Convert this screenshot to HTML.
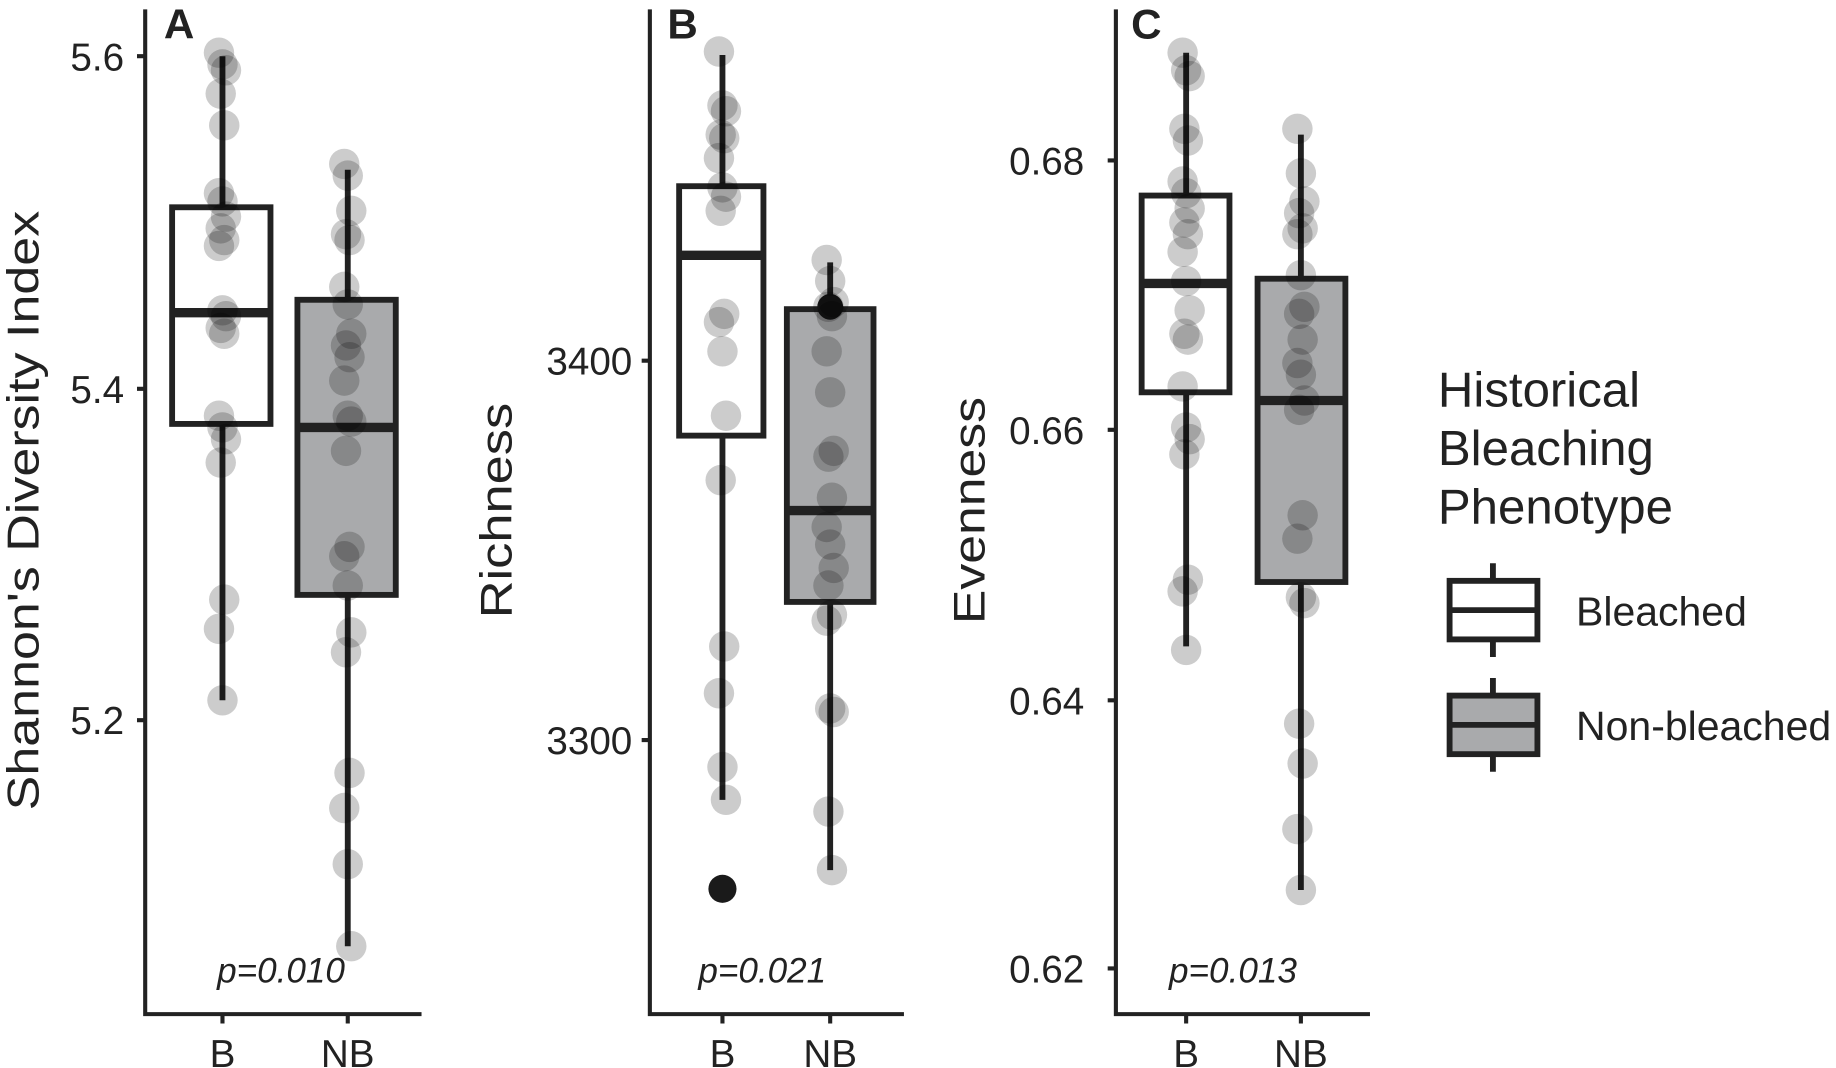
<!DOCTYPE html>
<html><head><meta charset="utf-8"><style>
html,body{margin:0;padding:0;background:#fff;}
svg{display:block;}
text{font-family:"Liberation Sans",Arial,sans-serif;fill:#222;}
</style></head><body>
<svg width="1836" height="1068" viewBox="0 0 1568 912" preserveAspectRatio="none" xmlns="http://www.w3.org/2000/svg">
<g stroke="#222" stroke-width="3.5" fill="none">
<path d="M124 8V866H360M117 48H124M117 332H124M117 615H124M190 866V874M297 866V874"/>
<path d="M555 8V866H772M548 308H555M548 632H555M617 866V874M709 866V874"/>
<path d="M953 8V866H1170M946 137H953M946 367H953M946 598H953M946 827H953M1013 866V874M1111 866V874"/>
</g>
<g font-size="33" text-anchor="end">
<text x="106" y="60">5.6</text><text x="106" y="344">5.4</text><text x="106" y="627">5.2</text>
<text x="540" y="320">3400</text><text x="540" y="644">3300</text>
<text x="926" y="149">0.68</text><text x="926" y="379">0.66</text><text x="926" y="610">0.64</text><text x="926" y="839">0.62</text>
</g>
<g font-size="33" text-anchor="middle">
<text x="190" y="911">B</text><text x="297" y="911">NB</text>
<text x="617" y="911">B</text><text x="709" y="911">NB</text>
<text x="1013" y="911">B</text><text x="1111" y="911">NB</text>
</g>
<g font-size="38" text-anchor="middle">
<text transform="translate(33 436) rotate(-90)" textLength="512" lengthAdjust="spacingAndGlyphs">Shannon's Diversity Index</text>
<text transform="translate(437 436) rotate(-90)" textLength="184" lengthAdjust="spacingAndGlyphs">Richness</text>
<text transform="translate(841 436) rotate(-90)" textLength="194" lengthAdjust="spacingAndGlyphs">Evenness</text>
</g>
<g font-size="36" font-weight="bold"><text x="140" y="33">A</text><text x="570" y="33">B</text><text x="966" y="33">C</text></g>
<g font-size="30" font-style="italic" text-anchor="middle">
<text x="240" y="839">p=0.010</text><text x="651" y="839">p=0.021</text><text x="1053" y="839">p=0.013</text>
</g>
<g stroke="#222" stroke-width="5">
<line x1="190" y1="48" x2="190" y2="598"/><rect x="147" y="177" width="84" height="185" fill="#fff"/>
<line x1="297" y1="145" x2="297" y2="808"/><rect x="254" y="256" width="84" height="252" fill="#a9aaac"/>
<line x1="617" y1="47" x2="617" y2="683"/><rect x="580" y="159" width="72" height="213" fill="#fff"/>
<line x1="709" y1="224" x2="709" y2="743"/><rect x="672" y="264" width="74" height="250" fill="#a9aaac"/>
<line x1="1013" y1="45" x2="1013" y2="552"/><rect x="975" y="167" width="75" height="168" fill="#fff"/>
<line x1="1111" y1="115" x2="1111" y2="760"/><rect x="1074" y="238" width="75" height="259" fill="#a9aaac"/>
</g>
<g stroke="#222" stroke-width="8">
<line x1="147" y1="267" x2="231" y2="267"/><line x1="254" y1="365" x2="338" y2="365"/>
<line x1="580" y1="218" x2="652" y2="218"/><line x1="672" y1="436" x2="746" y2="436"/>
<line x1="975" y1="242" x2="1050" y2="242"/><line x1="1074" y1="342" x2="1149" y2="342"/>
</g>
<circle cx="617" cy="759" r="12" fill="#1a1a1a"/>
<circle cx="709" cy="262" r="11" fill="#1a1a1a"/>
<g fill="rgba(0,0,0,0.2)" id="pts"></g>
<g font-size="42"><text x="1228" y="347">Historical</text><text x="1228" y="397">Bleaching</text><text x="1228" y="447">Phenotype</text></g>
<g stroke="#222" stroke-width="5">
<line x1="1275" y1="481" x2="1275" y2="561"/><rect x="1238" y="496" width="75" height="50" fill="#fff"/><line x1="1238" y1="521" x2="1313" y2="521"/>
<line x1="1275" y1="579" x2="1275" y2="659"/><rect x="1238" y="594" width="75" height="50" fill="#a9aaac"/><line x1="1238" y1="619" x2="1313" y2="619"/>
</g>
<g font-size="35"><text x="1346" y="534">Bleached</text><text x="1346" y="632">Non-bleached</text></g>
</svg>
<script>
var d={190:[45,55,60,80,107,165,172,185,195,205,210,265,270,280,285,355,365,375,395,512,537,598],
297:[140,150,180,200,205,245,260,285,295,305,325,355,360,385,467,475,500,540,557,660,690,738,808],
617:[44,90,95,115,118,135,160,168,180,268,275,300,355,410,552,592,655,683],
709:[222,240,258,262,270,300,335,385,390,425,450,465,485,500,525,530,605,608,693,743],
1013:[45,60,65,110,120,155,165,178,190,200,215,240,265,285,290,330,365,375,388,495,505,555],
1111:[110,148,172,182,195,200,235,262,268,290,310,320,342,350,440,460,510,515,618,652,708,760]};
var g=document.getElementById('pts'),s='';
for(var x in d){d[x].forEach(function(y,i){var j=((i*7)%5-2)*1.5;s+='<circle cx="'+(+x+j)+'" cy="'+y+'" r="13"/>';});}
g.innerHTML=s;
</script>
</body></html>
